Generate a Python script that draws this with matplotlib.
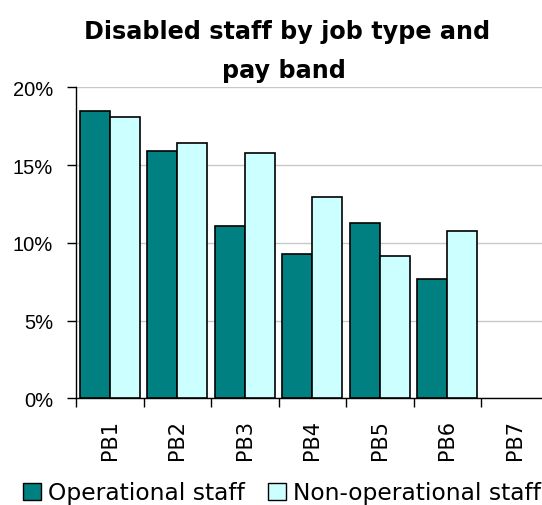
import matplotlib
matplotlib.use("Agg")
import matplotlib.pyplot as plt
import numpy as np
from matplotlib.patches import Patch

categories = ["PB1", "PB2", "PB3", "PB4", "PB5", "PB6", "PB7"]
operational = [18.5, 15.9, 11.1, 9.3, 11.25, 7.7, np.nan]
non_operational = [18.1, 16.4, 15.8, 12.95, 9.15, 10.75, np.nan]
yticks = [0, 5, 10, 15, 20]
ytick_labels = ["0%", "5%", "10%", "15%", "20%"]
title_lines = ["Disabled staff by job type and", "pay band"]

title_font = "DejaVu Sans"
op_color = "#008080"
nonop_color = "#CCFFFF"

W, H = 542, 506
fig = plt.figure(figsize=(W / 100, H / 100), dpi=100)
ax_left, ax_right, ax_top, ax_bottom = 76, 548.5, 88.3, 399.3
ax = fig.add_axes([ax_left / W, 1 - ax_bottom / H, (ax_right - ax_left) / W, (ax_bottom - ax_top) / H])

x = np.arange(len(categories))
bw = 0.445
ax.bar(x - bw / 2, operational, bw, color=op_color, edgecolor="black", linewidth=1.2, zorder=3)
ax.bar(x + bw / 2, non_operational, bw, color=nonop_color, edgecolor="black", linewidth=1.2, zorder=3)

ax.set_xlim(-0.5, len(categories) - 0.5)
ax.set_ylim(0, 20)
ax.set_yticks(yticks)
ax.set_yticklabels(ytick_labels, fontfamily="Liberation Sans", fontsize=14.5)
ax.yaxis.grid(True, color="#C8C8C8", linewidth=1, zorder=0)
ax.set_axisbelow(True)

ax.set_xticks(x)
ax.set_xticklabels(categories, rotation=90, fontfamily="DejaVu Sans", fontsize=15)
ax.tick_params(axis="x", which="major", length=0, pad=15)
ax.set_xticks(np.arange(len(categories)) - 0.5, minor=True)
ax.tick_params(axis="x", which="minor", length=6.5, width=1, direction="out")
ax.tick_params(axis="y", length=6.5, width=1, direction="out", pad=10)

for s in ["top", "right"]:
    ax.spines[s].set_visible(False)
for s in ["left", "bottom"]:
    ax.spines[s].set_color("black")
    ax.spines[s].set_linewidth(1)

fig.text(287 / W, 1 - 39 / H, title_lines[0], ha="center", va="baseline",
         fontfamily=title_font, fontweight="bold", fontsize=17.2)
fig.text(284 / W, 1 - 78 / H, title_lines[1], ha="center", va="baseline",
         fontfamily=title_font, fontweight="bold", fontsize=17.2)

handles = [Patch(facecolor=op_color, edgecolor="black", label="Operational staff"),
           Patch(facecolor=nonop_color, edgecolor="black", label="Non-operational staff")]
fig.legend(handles=handles, loc="center", bbox_to_anchor=(282 / W, 1 - 494 / H), ncol=2,
           frameon=False, prop={"family": "DejaVu Sans", "size": 16.8},
           handlelength=0.75, handleheight=0.75, handletextpad=0.3, columnspacing=1.0, borderaxespad=0)

fig.savefig("out.png", dpi=100)
